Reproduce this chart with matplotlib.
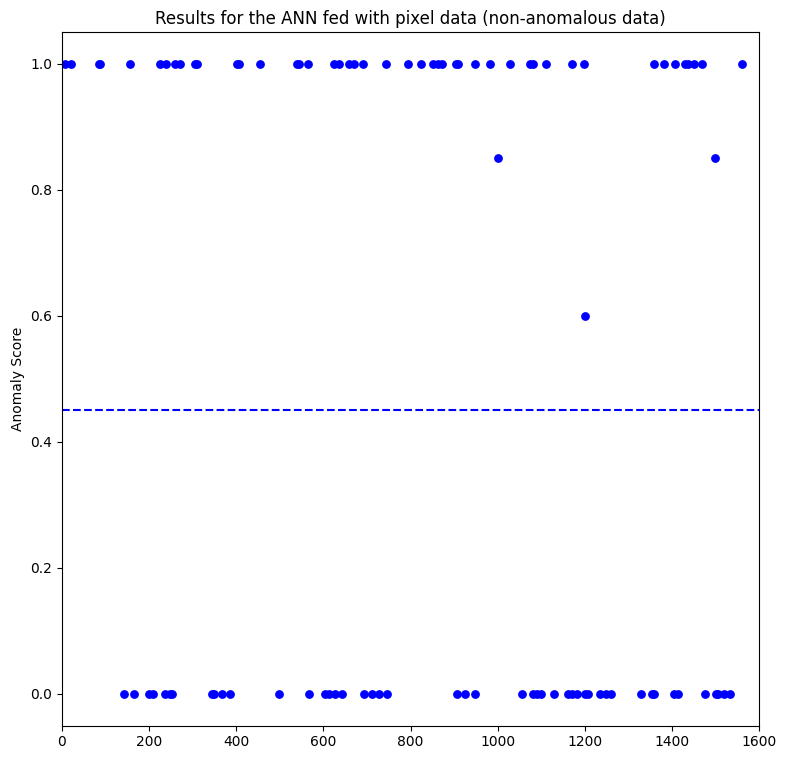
import matplotlib
matplotlib.use('Agg')
import matplotlib.pyplot as plt

# samples scored as anomalous (score 1.0)
x_one = [7, 21, 84, 88, 157, 226, 239, 259, 271, 305, 309, 402, 406, 455,
         539, 543, 565, 625, 637, 659, 671, 692, 744, 794, 823, 852, 862,
         873, 904, 910, 947, 983, 1029, 1075, 1081, 1112, 1171, 1198,
         1360, 1381, 1408, 1430, 1436, 1450, 1470, 1562]

# samples scored as normal (score 0.0)
x_zero = [143, 166, 200, 210, 237, 247, 253, 344, 348, 367, 386, 497, 568,
          604, 613, 627, 643, 694, 711, 728, 746, 906, 924, 948, 1057, 1081,
          1090, 1099, 1130, 1162, 1170, 1183, 1201, 1207, 1236, 1249, 1261,
          1328, 1354, 1360, 1406, 1413, 1475, 1501, 1507, 1519, 1534]

# intermediate scores
x_mid = [1000, 1200, 1500]
y_mid = [0.85, 0.60, 0.85]

threshold = 0.45

xs = x_one + x_zero + x_mid
ys = [1.0] * len(x_one) + [0.0] * len(x_zero) + y_mid

fig = plt.figure(figsize=(7.86, 7.59), dpi=100)
ax = fig.add_axes([62 / 786, 33.5 / 759, 697 / 786, 693.5 / 759])

ax.plot(xs, ys, 'o', color='blue', markersize=5.3, linestyle='none')
ax.axhline(threshold, color='blue', linestyle='--', linewidth=1.5)

ax.set_xlim(0, 1600)
ax.set_ylim(-0.05, 1.05)
ax.set_title("Results for the ANN fed with pixel data (non-anomalous data)")
ax.set_ylabel("Anomaly Score")

fig.savefig("out.png", dpi=100)
plt.close(fig)
